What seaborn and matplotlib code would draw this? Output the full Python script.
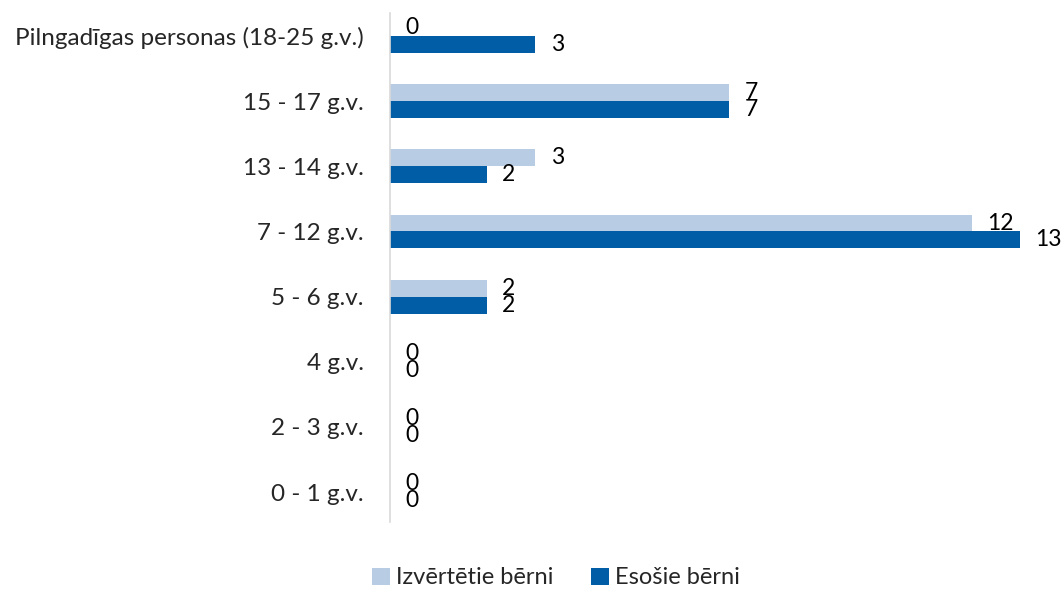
import pandas as pd
import matplotlib.pyplot as plt
import seaborn as sns

# Data
categories = ["Pilngadīgas personas (18-25 g.v.)", "15 - 17 g.v.", "13 - 14 g.v.",
              "7 - 12 g.v.", "5 - 6 g.v.", "4 g.v.", "2 - 3 g.v.", "0 - 1 g.v."]
izvertetie = [0, 7, 3, 12, 2, 0, 0, 0]
esosie = [3, 7, 2, 13, 2, 0, 0, 0]
series_names = ["Izvērtētie bērni", "Esošie bērni"]
colors = ["#B8CCE4", "#005DA6"]

df = pd.DataFrame({
    "cat": categories * 2,
    "val": izvertetie + esosie,
    "series": [series_names[0]] * len(categories) + [series_names[1]] * len(categories),
})

sns.set_theme(style="white")
plt.rcParams['font.family'] = ['Lato', 'DejaVu Sans']
fs = 16.5

fig = plt.figure(figsize=(10.64, 5.89), dpi=100)
ax = fig.add_axes([390 / 1064, 1 - 522 / 589, 630 / 1064, (522 - 13) / 589])

sns.barplot(data=df, y="cat", x="val", hue="series", orient="h",
            palette=colors, width=0.52, dodge=True, ax=ax, saturation=1,
            linewidth=0)

for cont in ax.containers:
    ax.bar_label(cont, padding=11, fontsize=fs, color="black")

ax.set_xlim(0, 13)
ax.set_ylim(7.46, -0.354)
ax.set_xlabel("")
ax.set_ylabel("")
ax.set_xticks([])
ax.tick_params(axis="y", length=0, pad=19, labelsize=17.5)
for s in ["top", "right", "bottom"]:
    ax.spines[s].set_visible(False)
ax.spines["left"].set_color("#D9D9D9")
ax.spines["left"].set_linewidth(1.2)

ax.legend(loc="center", bbox_to_anchor=(556 / 1064, 1 - 578 / 589),
          bbox_transform=fig.transFigure, ncol=2, frameon=False, fontsize=17,
          handlelength=0.75, handleheight=0.75, handletextpad=0.25, columnspacing=1.6)

plt.savefig("out.png", dpi=100)
